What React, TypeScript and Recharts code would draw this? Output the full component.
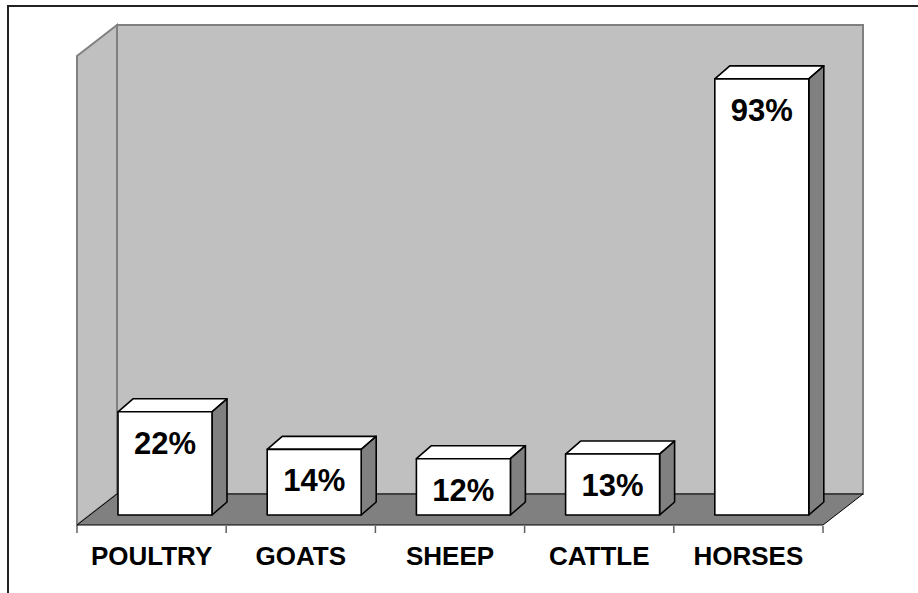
import React from "react";
import {
    BarChart,
    Bar,
    XAxis,
    YAxis,
    ReferenceArea,
    LabelList,
} from "recharts";

const categories = ["POULTRY", "GOATS", "SHEEP", "CATTLE", "HORSES"];
const shares = [22, 14, 12, 13, 93];
const boundaryTicks = [0, 1, 2, 3, 4, 5];

const data = categories.map((name, i) => ({ name, idx: i + 0.5, value: shares[i] }));

// depth of the whole 3D scene and of each bar
const DX = 40;
const DY = 31;
const BAR_SHIFT_X = 13;
const BAR_SHIFT_Y = 10;
const BDX = 15;
const BDY = 13;

const Walls = (props: any) => {
    const { x, y, width, height } = props;
    const bottom = y + height;
    return (
        <g>
            <polygon
                points={`${x},${y} ${x + DX},${y - DY} ${x + DX},${bottom - DY} ${x},${bottom}`}
                fill="#c0c0c0"
                stroke="#808080"
                strokeWidth={2}
            />
            <rect
                x={x + DX}
                y={y - DY}
                width={width}
                height={height}
                fill="#c0c0c0"
                stroke="#808080"
                strokeWidth={2}
            />
            <polygon
                points={`${x},${bottom} ${x + DX},${bottom - DY} ${x + width + DX},${bottom - DY} ${x + width},${bottom}`}
                fill="#808080"
                stroke="#000"
                strokeWidth={1}
            />
        </g>
    );
};

const Box = (props: any) => {
    const { x, y, width, height } = props;
    const fx = x + BAR_SHIFT_X;
    const fy = y - BAR_SHIFT_Y;
    const w = width;
    const h = height;
    return (
        <g stroke="#000" strokeWidth={1.6} strokeLinejoin="round">
            <polygon
                points={`${fx},${fy} ${fx + BDX},${fy - BDY} ${fx + w + BDX},${fy - BDY} ${fx + w},${fy}`}
                fill="#ffffff"
            />
            <polygon
                points={`${fx + w},${fy} ${fx + w + BDX},${fy - BDY} ${fx + w + BDX},${fy + h - BDY} ${fx + w},${fy + h}`}
                fill="#808080"
            />
            <rect x={fx} y={fy} width={w} height={h} fill="#ffffff" />
        </g>
    );
};

const ValueLabel = (props: any) => {
    const { x, y, width, value } = props;
    return (
        <text
            x={x + width / 2 + BAR_SHIFT_X}
            y={y - BAR_SHIFT_Y + 42}
            textAnchor="middle"
            fontSize={31}
            fontWeight="bold"
            fontFamily="'Liberation Sans', Arial, sans-serif"
            fill="#000"
        >
            {value}%
        </text>
    );
};

const NoTick = () => <g />;

export default function App() {
    return (
        <div
            style={{
                position: "fixed",
                left: 0,
                top: 0,
                width: 918,
                height: 593,
                background: "#fff",
                overflow: "hidden",
            }}
        >
            <BarChart
                width={918}
                height={593}
                data={data}
                margin={{ top: 56, right: 95, bottom: 27, left: 77 }}
            >
                <XAxis
                    dataKey="name"
                    height={1}
                    tickLine={false}
                    axisLine={false}
                    tickMargin={16}
                    interval={0}
                    tick={{
                        fill: "#000",
                        fontSize: 26,
                        fontWeight: "bold",
                        fontFamily: "'Liberation Sans', Arial, sans-serif",
                    }}
                />
                <XAxis
                    xAxisId="edges"
                    dataKey="idx"
                    type="number"
                    domain={[0, 5]}
                    ticks={boundaryTicks}
                    height={40}
                    tick={<NoTick />}
                    axisLine={false}
                    tickLine={{ stroke: "#606060", strokeWidth: 1.5 }}
                    tickSize={7}
                />
                <YAxis hide domain={[0, 100]} />
                <ReferenceArea y1={0} y2={100} shape={<Walls />} ifOverflow="visible" />
                <Bar
                    dataKey="value"
                    barSize={94}
                    shape={<Box />}
                    isAnimationActive={false}
                >
                    <LabelList dataKey="value" content={<ValueLabel />} />
                </Bar>
            </BarChart>
            <div
                style={{
                    position: "absolute",
                    left: 7,
                    top: 5,
                    width: 1000,
                    height: 1000,
                    borderLeft: "2px solid #222",
                    borderTop: "2px solid #222",
                    pointerEvents: "none",
                }}
            />
        </div>
    );
}
